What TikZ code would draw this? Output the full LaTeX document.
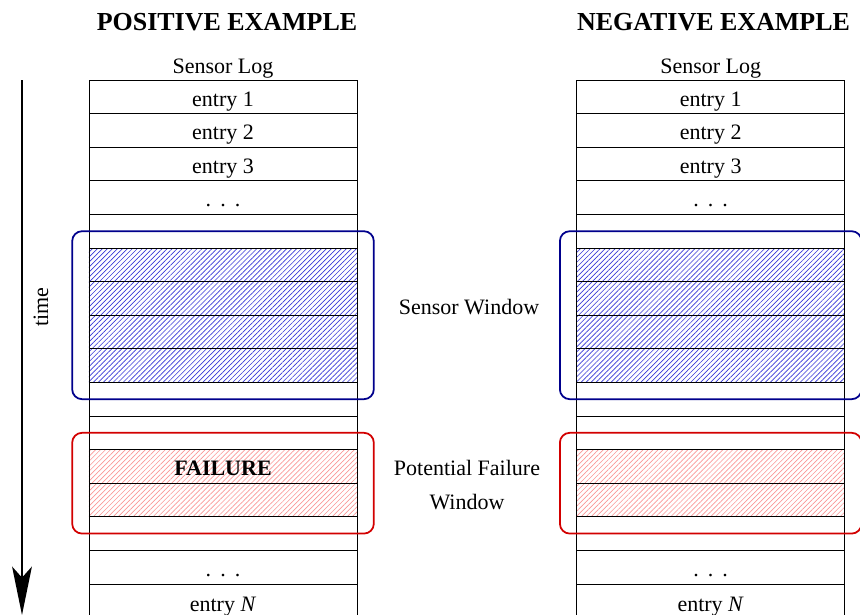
\documentclass[tikz,border=0pt]{standalone}
\usepackage{fontspec}
\setmainfont{Liberation Serif}
\usetikzlibrary{patterns.meta,fit,arrows.meta}

\definecolor{winblue}{RGB}{0,0,140}
\definecolor{winred}{RGB}{210,0,0}
\definecolor{hatchblue}{RGB}{55,55,215}
\definecolor{hatchred}{RGB}{250,150,150}

% widely spaced ellipsis used in the log rows
\newcommand\logdots{.\hspace{0.41em}.\hspace{0.41em}.}

\begin{document}
\begin{tikzpicture}[x=0.45455pt,y=-0.45455pt,
  logrow/.style={draw=black, line width=0.4pt, minimum width=121.82pt,
    minimum height=15.27pt, inner sep=0pt, outer sep=0pt,
    text height=8.4pt, text depth=0pt},
  sensorrow/.style={logrow, pattern={Lines[angle=45,distance=1.6pt,line width=0.3pt]},
    pattern color=hatchblue},
  failrow/.style={logrow, pattern={Lines[angle=45,distance=1.6pt,line width=0.3pt]},
    pattern color=hatchred},
  lastrow/.style={logrow, minimum height=16.3pt},
  window/.style={rounded corners=4.5pt, line width=0.8pt, inner sep=7.64pt},
  title/.style={font=\fontsize{11.8}{14}\selectfont\bfseries},
  timearrow/.style={line width=0.8pt, -{Stealth[length=22pt,width=9pt,inset=5pt]}}]

\useasboundingbox (0,0) rectangle (860,615);

% time axis
\coordinate (t0) at (22,80);
\coordinate (t1) at (22,615);
\draw[timearrow] (t0) -- (t1);
\node[rotate=90] (tlab) at (41,307) {time};

% column titles
\node[title] (tpos) at (227,22) {POSITIVE EXAMPLE};
\node[title] (tneg) at (713.5,22) {NEGATIVE EXAMPLE};
\node[anchor=base] (hL) at (223,73) {Sensor Log};
\node[anchor=base] (hR) at (710.7,73) {Sensor Log};

% positive log
\foreach \k/\txt/\sty in {0/entry 1/logrow, 1/entry 2/logrow, 2/entry 3/logrow,
    3/\logdots/logrow, 4//logrow, 5//sensorrow, 6//sensorrow, 7//sensorrow,
    8//sensorrow, 9//logrow, 10//logrow, 11/\textbf{FAILURE}/failrow,
    12//failrow, 13//logrow, 14/\logdots/logrow}
  \node[\sty] (L\k) at (223,{96.8+33.6*\k}) {\txt};
\node[lastrow, anchor=north] (L15) at (L14.south) {entry \textit{N}};

% negative log
\foreach \k/\txt/\sty in {0/entry 1/logrow, 1/entry 2/logrow, 2/entry 3/logrow,
    3/\logdots/logrow, 4//logrow, 5//sensorrow, 6//sensorrow, 7//sensorrow,
    8//sensorrow, 9//logrow, 10//logrow, 11//failrow,
    12//failrow, 13//logrow, 14/\logdots/logrow}
  \node[\sty] (R\k) at (710.7,{96.8+33.6*\k}) {\txt};
\node[lastrow, anchor=north] (R15) at (R14.south) {entry \textit{N}};

% windows
\node[window, draw=winblue, fit=(L5)(L8)] (swL) {};
\node[window, draw=winred, fit=(L11)(L12)] (pfL) {};
\node[window, draw=winblue, fit=(R5)(R8)] (swR) {};
\node[window, draw=winred, fit=(R11)(R12)] (pfR) {};

% window labels
\node (swlab) at (469,307) {Sensor Window};
\node[align=center] (pflab) at (467,485) {Potential Failure\\[3.6pt]Window};

\end{tikzpicture}
\end{document}
